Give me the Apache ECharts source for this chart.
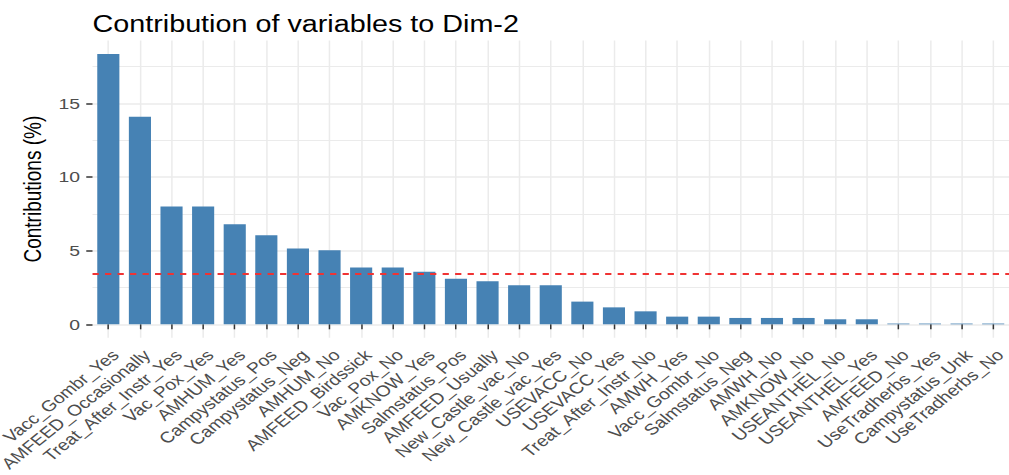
<!DOCTYPE html>
<html>
<head>
<meta charset="utf-8">
<script src="https://cdn.jsdelivr.net/npm/echarts@6/dist/echarts.min.js"></script>
<style>
html,body{margin:0;padding:0;background:#fff;overflow:hidden;}
#wrap{width:1009px;height:475px;overflow:hidden;}
#chart{width:807px;height:475px;transform:scaleX(1.2503);transform-origin:0 0;}
</style>
</head>
<body>
<div id="wrap"><div id="chart"></div></div>
<script>
const titleText = 'Contribution of variables to Dim-2';
const yAxisTitle = 'Contributions (%)';
const categories = ['Vacc_Gombr_Yes','AMFEED_Occasionally','Treat_After_Instr_Yes','Vac_Pox_Yes','AMHUM_Yes','Campystatus_Pos','Campystatus_Neg','AMHUM_No','AMFEED_Birdssick','Vac_Pox_No','AMKNOW_Yes','Salmstatus_Pos','AMFEED_Usually','New_Castle_vac_No','New_Castle_vac_Yes','USEVACC_No','USEVACC_Yes','Treat_After_Instr_No','AMWH_Yes','Vacc_Gombr_No','Salmstatus_Neg','AMWH_No','AMKNOW_No','USEANTHEL_No','USEANTHEL_Yes','AMFEED_No','UseTradherbs_Yes','Campystatus_Unk','UseTradherbs_No'];
const contributions = [18.36,14.1,8.0,8.0,6.79,6.05,5.14,5.03,3.85,3.85,3.57,3.10,2.92,2.65,2.65,1.54,1.15,0.88,0.52,0.52,0.43,0.43,0.43,0.34,0.34,0.05,0.05,0.05,0.05];
const majorTicks = [0,5,10,15];
const minorTicks = [2.5,7.5,12.5,17.5];

const expectedAvg = 100 / categories.length;
const dataMax = Math.max(...contributions);
const yMin = -0.05 * dataMax;
const yMax = 1.05 * dataMax;
const FONT = '"Liberation Sans", Arial, Helvetica, sans-serif';

const chart = echarts.init(document.getElementById('chart'), null, {renderer:'svg'});
chart.setOption({
  animation:false,
  backgroundColor:'#ffffff',
  textStyle:{fontFamily:FONT},
  title:{
    text:titleText, left:69, top:8,
    textStyle:{fontFamily:FONT, fontSize:23, fontWeight:'normal', color:'#000000'}
  },
  grid:{left:74, right:0, top:40.5, bottom:137.2, containLabel:false, outerBoundsMode:'none'},
  xAxis:{
    type:'category', data:categories,
    axisLine:{show:false},
    axisTick:{show:true, alignWithLabel:true, length:5, lineStyle:{color:'#333333', width:1.2}},
    axisLabel:{interval:0, rotate:45, verticalAlign:'top', margin:9, fontSize:15.5, color:'#4d4d4d', fontFamily:FONT},
    splitLine:{show:true, alignWithLabel:true, lineStyle:{color:'#ebebeb', width:1.2}}
  },
  yAxis:[{
    type:'value', min:yMin, max:yMax,
    name:yAxisTitle, nameLocation:'middle', nameGap:37, nameRotate:90,
    nameTextStyle:{fontSize:19, color:'#000000', fontFamily:FONT},
    axisLine:{show:false},
    axisTick:{show:true, length:5, customValues:majorTicks, lineStyle:{color:'#333333', width:1.5}},
    axisLabel:{customValues:majorTicks, fontSize:15.5, color:'#4d4d4d', margin:10, fontFamily:FONT},
    splitLine:{show:true, lineStyle:{color:'#ebebeb', width:1.5}}
  },{
    type:'value', min:yMin, max:yMax, position:'left',
    axisLine:{show:false},
    axisTick:{show:false, customValues:minorTicks},
    axisLabel:{show:false, customValues:minorTicks},
    splitLine:{show:true, lineStyle:{color:'#ebebeb', width:1.2}}
  }],
  series:[{
    type:'bar', data:contributions, barWidth:'70%',
    itemStyle:{color:'#4682B4'},
    markLine:{
      silent:true, symbol:['none','none'],
      label:{show:false},
      lineStyle:{color:'#f03333', type:[5,5], width:1.8},
      data:[{yAxis:expectedAvg}]
    }
  }]
});
</script>
</body>
</html>
